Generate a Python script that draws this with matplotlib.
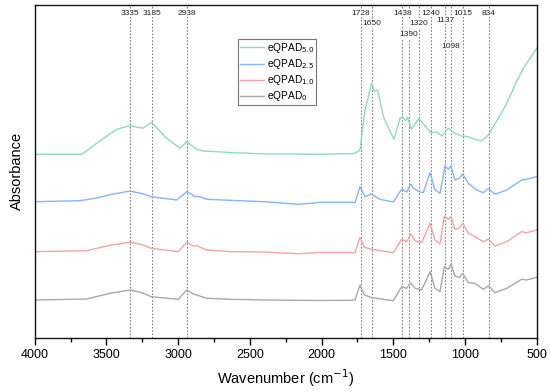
import matplotlib
matplotlib.use("Agg")
import matplotlib.pyplot as plt

plt.rcParams['font.family'] = ['Liberation Sans', 'DejaVu Sans']

# ---------------- data ----------------
wn_5 = [4000, 3670, 3568, 3474, 3428, 3336, 3245, 3185, 3080, 2987, 2940, 2871, 2826, 2617, 2381,
        2200, 2000, 1800, 1767, 1732, 1697, 1650, 1634, 1609, 1570, 1546, 1495, 1453, 1437, 1416,
        1400, 1374, 1337, 1321, 1279, 1237, 1197, 1162, 1116, 1070, 1023, 977, 918, 883, 837,
        733, 709, 640, 593, 524, 500]
ab_5 = [1.834, 1.834, 1.944, 2.040, 2.084, 2.120, 2.094, 2.154, 1.994, 1.894, 1.960, 1.884, 1.867,
        1.850, 1.837, 1.837, 1.834, 1.840, 1.844, 1.877, 2.277, 2.547, 2.467, 2.477, 2.217, 2.137,
        1.984, 2.197, 2.210, 2.170, 2.204, 2.084, 2.160, 2.194, 2.117, 2.050, 2.057, 2.017, 2.094,
        2.044, 2.017, 2.010, 1.977, 1.970, 2.027, 2.277, 2.344, 2.560, 2.694, 2.844, 2.894]

wn_25 = [4000, 3684, 3568, 3474, 3336, 3250, 3189, 3010, 2940, 2905, 2882, 2859, 2801, 2638, 2400,
         2157, 2000, 1800, 1767, 1732, 1697, 1655, 1593, 1500, 1441, 1406, 1378, 1360, 1314, 1291,
         1244, 1209, 1174, 1139, 1116, 1098, 1070, 1040, 1016, 977, 918, 872, 837, 791, 709, 605,
         570, 500]
ab_25 = [1.360, 1.370, 1.397, 1.430, 1.467, 1.440, 1.410, 1.377, 1.460, 1.434, 1.410, 1.414, 1.384,
         1.374, 1.360, 1.334, 1.354, 1.354, 1.350, 1.510, 1.410, 1.437, 1.384, 1.357, 1.487, 1.457,
         1.537, 1.494, 1.457, 1.450, 1.650, 1.477, 1.444, 1.717, 1.684, 1.717, 1.577, 1.594, 1.637,
         1.544, 1.477, 1.450, 1.494, 1.434, 1.477, 1.577, 1.584, 1.610]

wn_10 = [4000, 3638, 3474, 3336, 3250, 3189, 2999, 2940, 2894, 2871, 2801, 2638, 2400, 2157, 2000,
         1800, 1767, 1732, 1702, 1650, 1500, 1441, 1406, 1378, 1349, 1302, 1244, 1209, 1174, 1144,
         1116, 1098, 1070, 1040, 1016, 977, 931, 872, 837, 791, 709, 605, 570, 500]
ab_10 = [0.860, 0.870, 0.924, 0.954, 0.930, 0.894, 0.860, 0.954, 0.917, 0.920, 0.877, 0.860, 0.857,
         0.840, 0.852, 0.852, 0.850, 1.004, 0.904, 0.884, 0.850, 0.984, 0.960, 1.037, 0.970, 0.950,
         1.144, 0.977, 0.937, 1.217, 1.184, 1.210, 1.084, 1.094, 1.144, 1.044, 1.010, 0.960, 0.987,
         0.917, 0.960, 1.060, 1.050, 1.077]

wn_0 = [4000, 3638, 3474, 3336, 3250, 3189, 2999, 2940, 2894, 2871, 2801, 2638, 2400, 2000, 1800,
        1767, 1732, 1702, 1650, 1500, 1441, 1406, 1378, 1349, 1302, 1244, 1209, 1174, 1144, 1116,
        1098, 1070, 1040, 1016, 977, 931, 872, 837, 791, 709, 605, 570, 500]
ab_0 = [0.377, 0.387, 0.444, 0.477, 0.450, 0.410, 0.384, 0.477, 0.437, 0.427, 0.394, 0.384, 0.377,
        0.372, 0.374, 0.377, 0.527, 0.427, 0.400, 0.370, 0.510, 0.494, 0.550, 0.494, 0.477, 0.660,
        0.494, 0.460, 0.710, 0.684, 0.737, 0.617, 0.604, 0.644, 0.550, 0.544, 0.484, 0.517, 0.450,
        0.494, 0.584, 0.577, 0.604]

series_labels = ['eQPAD$_{5.0}$', 'eQPAD$_{2.5}$', 'eQPAD$_{1.0}$', 'eQPAD$_{0}$']
series_colors = ['#8fdcb4', '#86b4f4', '#f5a3a3', '#a8a8a8']

peaks = [3335, 3185, 2938, 1728, 1650, 1438, 1390, 1320, 1240, 1137, 1098, 1015, 834]
peak_row = [0, 0, 0, 0, 2, 0, 4, 2, 0, 1, 5, 0, 0]   # label row for each peak
row_y = [3.247, 3.177, 3.140, 3.10, 3.027, 2.917]

x_ticks = [4000, 3500, 3000, 2500, 2000, 1500, 1000, 500]

# ---------------- figure ----------------
fig = plt.figure(figsize=(5.5, 3.92), dpi=100)
ax = fig.add_axes([34.7 / 550, 1 - 337.7 / 392, 502 / 550, 332.7 / 392])

for p in peaks:
    ax.axvline(p, color='#808080', ls=(0, (1.5, 1.5)), lw=0.8, zorder=1)

for wn, ab, lab, col in zip([wn_5, wn_25, wn_10, wn_0], [ab_5, ab_25, ab_10, ab_0],
                            series_labels, series_colors):
    ax.plot(wn, ab, color=col, lw=1.0, label=lab, zorder=2)

for p, r in zip(peaks, peak_row):
    ax.text(p, row_y[r], str(p), ha='center', va='center', fontsize=6.0, color='#222222',
            bbox=dict(facecolor='white', edgecolor='none', pad=0.5), zorder=3)

ax.set_xlim(4000, 500)
ax.set_ylim(0, 3.327)
ax.set_xticks(x_ticks)
ax.set_xticks([3750, 3250, 2750, 2250, 1750, 1250, 750], minor=True)
ax.tick_params(axis='x', which='major', direction='out', length=5, width=1, labelsize=9, pad=3)
ax.tick_params(axis='x', which='minor', direction='out', length=3, width=1)
ax.set_yticks([])
for s in ax.spines.values():
    s.set_linewidth(1.0)
    s.set_color('#111111')

ax.set_xlabel('Wavenumber (cm$^{-1}$)', fontsize=10.5, labelpad=5)
ax.set_ylabel('Absorbance', fontsize=10.5, labelpad=8)

leg = ax.legend(loc='upper left', bbox_to_anchor=(238.3 / 550, 1 - 39 / 392),
                bbox_transform=fig.transFigure, borderaxespad=0, fontsize=7.3,
                frameon=True, fancybox=False, framealpha=1, edgecolor='#777777',
                handlelength=2.3, handletextpad=0.3, labelspacing=0.2, borderpad=0.2)
leg.get_frame().set_linewidth(0.8)

fig.savefig('out.png', dpi=100)
